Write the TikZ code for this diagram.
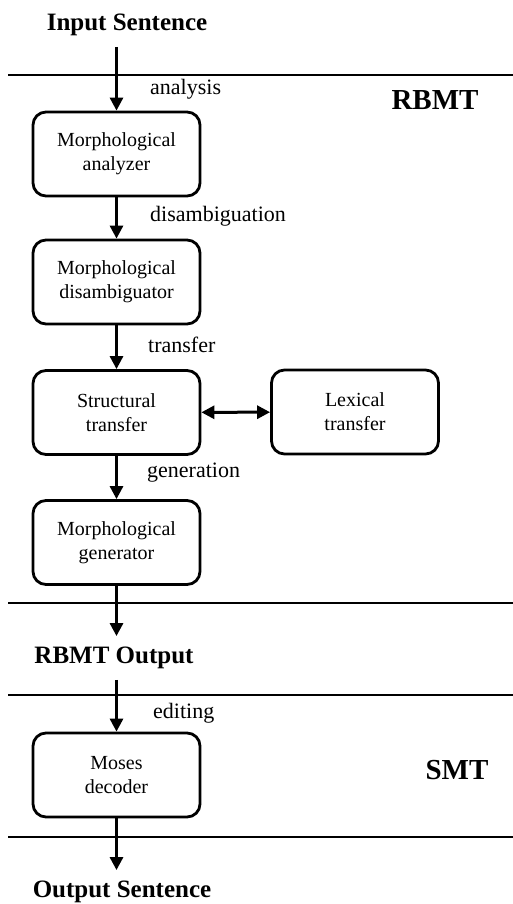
\documentclass[tikz,border=0pt]{standalone}
\usepackage{fontspec}
\setmainfont{Liberation Serif}
\usetikzlibrary{arrows.meta}
\begin{document}
\begin{tikzpicture}[x=1pt,y=-1pt,
  stage/.style={draw, line width=2.8pt, rounded corners=13pt,
    minimum width=167pt, minimum height=84pt, align=center,
    font=\fontsize{20}{24}\selectfont, inner sep=0pt},
  title/.style={font=\bfseries\fontsize{25}{28}\selectfont, inner sep=0pt, outer sep=11pt},
  zone/.style={font=\bfseries\fontsize{29}{32}\selectfont, inner sep=0pt},
  lbl/.style={anchor=west, font=\fontsize{22}{24}\selectfont, inner sep=0pt},
  arr/.style={line width=3pt, -{Triangle[width=13pt,length=13pt]}},
  darr/.style={line width=3pt, {Triangle[width=13pt,length=13pt]}-{Triangle[width=13pt,length=13pt]}},
  sep/.style={line width=2.6pt}]
\useasboundingbox (0,0) rectangle (513,904);

% section separators
\coordinate (s1l) at (8,75);   \coordinate (s1r) at (513,75);
\coordinate (s2l) at (8,603);  \coordinate (s2r) at (513,603);
\coordinate (s3l) at (8,695);  \coordinate (s3r) at (513,695);
\coordinate (s4l) at (8,837);  \coordinate (s4r) at (513,837);
\draw[sep] (s1l) -- (s1r);
\draw[sep] (s2l) -- (s2r);
\draw[sep] (s3l) -- (s3r);
\draw[sep] (s4l) -- (s4r);

% inputs and outputs
\node[title] (in)   at (127,25)  {Input Sentence};
\node[title] (rout) at (114,658) {RBMT Output};
\node[title] (out)  at (122,892) {Output Sentence};

% zone names
\node[zone] (rbmt) at (435,100) {RBMT};
\node[zone] (smt)  at (457,770) {SMT};

% processing stages
\node[stage] (ana) at (116.5,154) {Morphological\\analyzer};
\node[stage] (dis) at (116.5,282) {Morphological\\disambiguator};
\node[stage] (st)  at (116.5,412.5) {Structural\\transfer};
\node[stage] (lex) at (355,412) {Lexical\\transfer};
\node[stage] (gen) at (116.5,542.5) {Morphological\\generator};
\node[stage] (mos) at (116.5,775) {Moses\\decoder};

% flow
\draw[arr] (in.south -| ana.north) -- (ana.north);
\draw[arr] (ana) -- (dis);
\draw[arr] (dis) -- (st);
\draw[darr] (st) -- (lex);
\draw[arr] (st) -- (gen);
\draw[arr] (gen.south) -- (rout.north -| gen.south);
\draw[arr] (rout.south -| mos.north) -- (mos.north);
\draw[arr] (mos.south) -- (out.north -| mos.south);

% step labels
\node[lbl] (l1) at (150,89)  {analysis};
\node[lbl] (l2) at (150,216) {disambiguation};
\node[lbl] (l3) at (148,345) {transfer};
\node[lbl] (l4) at (147,473) {generation};
\node[lbl] (l5) at (153,713) {editing};
\end{tikzpicture}
\end{document}
